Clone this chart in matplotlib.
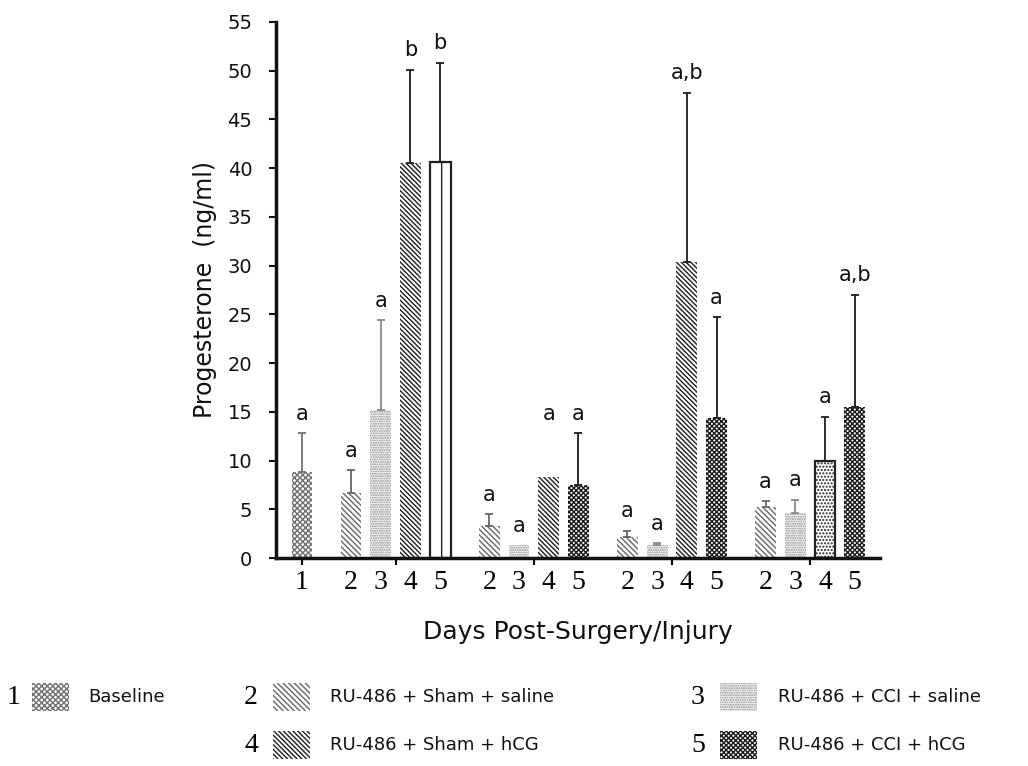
import numpy as np
import matplotlib
matplotlib.use("Agg")
import matplotlib.pyplot as plt
from matplotlib.patches import Rectangle

# ---- DATOS ----
treatments = ['Baseline', 'RU-486 + Sham + saline', 'RU-486 + CCI + saline',
              'RU-486 + Sham + hCG', 'RU-486 + CCI + hCG']
baseline_mean = [8.8]
baseline_sem = [4.0]
baseline_sig = ['a']

group_codes = [2, 3, 4, 5]
means = [
    [6.7, 15.2, 40.5, 40.6],
    [3.3, 1.3, 8.3, 7.5],
    [2.2, 1.3, 30.4, 14.4],
    [5.2, 4.6, 10.0, 15.5],
]
sems = [
    [2.3, 9.2, 9.6, 10.2],
    [1.2, 0.0, 4.5, 5.3],
    [0.6, 0.2, 17.3, 10.3],
    [0.6, 1.4, 4.5, 11.5],
]
sem_visible = [
    [True, True, True, True],
    [True, False, False, True],
    [True, True, True, True],
    [True, True, True, True],
]
sig = [
    ['a', 'a', 'b', 'b'],
    ['a', 'a', 'a', 'a'],
    ['a', 'a', 'a,b', 'a'],
    ['a', 'a', 'a', 'a,b'],
]
y_ticks = list(range(0, 56, 5))

# ---- ESTILOS ----
W, H = 1028, 766
hatch_styles = {
    1: dict(color='#707070', hatch='x' * 6),
    2: dict(color='#666666', hatch='\\' * 6),
    3: dict(color='#8a8a8a', hatch='.' * 7),
    4: dict(color='#1e1e1e', hatch='\\' * 7),
    5: dict(color='#1a1a1a', hatch='x' * 7),
}
plt.rcParams['hatch.linewidth'] = 1.0
plt.rcParams['font.family'] = ['DejaVu Sans']

fig = plt.figure(figsize=(W / 100, H / 100), dpi=100)
ax = fig.add_axes([276 / W, 208 / H, 604 / W, 536 / H])

gap = 1.65
xs_base = [0.0]
xs_groups = []
start = gap
for g in range(len(means)):
    xs_groups.append([start + i for i in range(len(group_codes))])
    start = xs_groups[-1][-1] + gap

bar_w = 0.7


def draw_bar(x, m, e, code, label, show_err=True, special=None):
    st = hatch_styles[code]
    if special == 'open_lines':
        ax.bar(x, m, bar_w, facecolor='white', edgecolor='#222222', linewidth=1.6,
               hatch='|', zorder=2)
    elif special == 'open_dots':
        ax.bar(x, m, bar_w, facecolor='white', edgecolor='#222222', linewidth=1.6,
               hatch='.' * 5, zorder=2)
    else:
        ax.bar(x, m, bar_w, facecolor='white', edgecolor=st['color'], linewidth=0,
               hatch=st['hatch'], zorder=2)
    if show_err and e > 0:
        ax.errorbar(x, m, yerr=[[0], [e]], fmt='none', ecolor=st['color'],
                    elinewidth=1.3, capsize=3, capthick=1.3, zorder=3)
    ax.text(x, m + e + 1.4, label, ha='center', va='baseline', fontsize=15,
            color='#111111')


draw_bar(xs_base[0], baseline_mean[0], baseline_sem[0], 1, baseline_sig[0])
for g in range(len(means)):
    for i, code in enumerate(group_codes):
        special = None
        if g == 0 and code == 5:
            special = 'open_lines'
        if g == 3 and code == 4:
            special = 'open_dots'
        draw_bar(xs_groups[g][i], means[g][i], sems[g][i], code, sig[g][i],
                 sem_visible[g][i], special)

# numeros bajo las barras
num_tr = ax.get_xaxis_transform()
ax.text(xs_base[0], -0.045, '1', transform=num_tr, ha='center', va='center',
        fontsize=20, family='Liberation Serif')
for g in range(len(means)):
    for i, code in enumerate(group_codes):
        ax.text(xs_groups[g][i], -0.045, str(code), transform=num_tr, ha='center',
                va='center', fontsize=20, family='Liberation Serif')

# ejes
centers = [xs_base[0]] + [np.mean(x) for x in xs_groups]
ax.set_xticks(centers)
ax.set_xticklabels([''] * len(centers))
ax.set_xlim(xs_base[0] - 0.875, xs_groups[-1][-1] + 0.85)
ax.set_ylim(0, 55)
ax.set_yticks(y_ticks)
ax.tick_params(axis='y', labelsize=14, length=5, width=1.5, pad=12, colors='#111111')
ax.tick_params(axis='x', length=5, width=1.5)
for s in ['top', 'right']:
    ax.spines[s].set_visible(False)
for s in ['left', 'bottom']:
    ax.spines[s].set_linewidth(2.5)
    ax.spines[s].set_color('#111111')

ax.set_ylabel('Progesterone  (ng/ml)', fontsize=17, va='center', color='#111111')
ax.yaxis.set_label_coords((205 - 276) / 604, 0.5)
ax.set_xlabel('Days Post-Surgery/Injury', fontsize=18, va='center', color='#111111')
ax.xaxis.set_label_coords(0.5, -(632 - 558) / 536)

# ---- LEYENDA ----
legend_layout = [
    (14, 697, 32, 88),
    (251, 697, 273, 330),
    (698, 697, 720, 778),
    (251, 745, 273, 330),
    (698, 745, 720, 778),
]
for k, (nx, ny, sx, tx) in enumerate(legend_layout):
    code = k + 1
    st = hatch_styles[code]
    fig.text(nx / W, 1 - ny / H, str(code), ha='center', va='center', fontsize=20,
             family='Liberation Serif')
    rect = Rectangle((sx / W, 1 - (ny + 14) / H), 37 / W, 28 / H,
                     transform=fig.transFigure, facecolor='white',
                     edgecolor=st['color'], linewidth=0, hatch=st['hatch'])
    fig.add_artist(rect)
    fig.text(tx / W, 1 - ny / H, treatments[k], ha='left', va='center', fontsize=13,
             color='#111111')

fig.savefig('out.png', dpi=100)
